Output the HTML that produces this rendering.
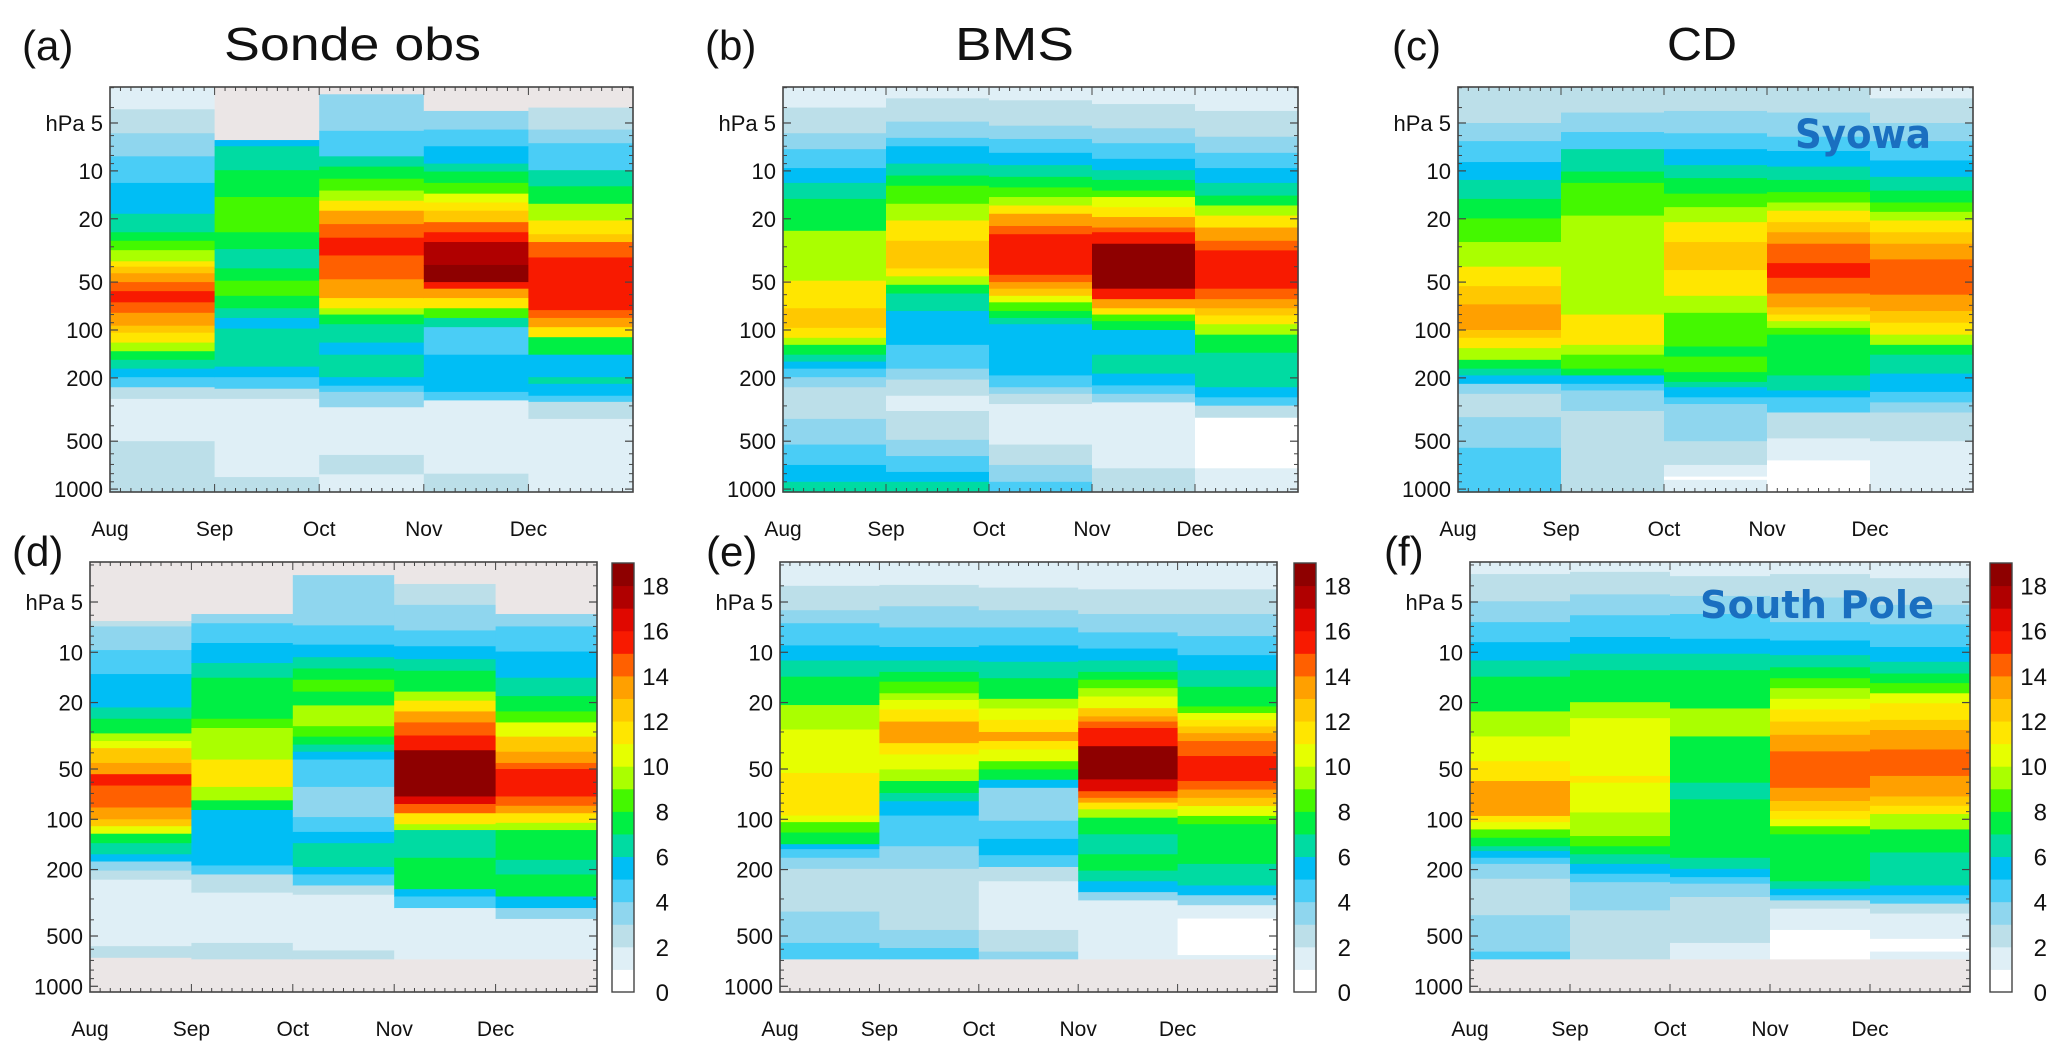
<!DOCTYPE html>
<html><head><meta charset="utf-8"><style>
html,body{margin:0;padding:0;background:#fff;}
svg{display:block;font-family:"Liberation Sans",Arial,sans-serif;}
</style></head><body>
<svg id="fig" xmlns="http://www.w3.org/2000/svg" width="2067" height="1063" viewBox="0 0 2067 1063">
<rect x="0" y="0" width="2067" height="1063" fill="#fff"/>
<g id="layer"></g>
</svg>
<script>
// ---------- data ----------
const months = ['Aug','Sep','Oct','Nov','Dec'];
const pressureTicks = [5,10,20,50,100,200,500,1000];
const pressureTickLabels = ['hPa 5','10','20','50','100','200','500','1000'];
const minorPressureTicks = [3,4,6,7,8,9,30,40,60,70,80,90,300,400,600,700,800,900];
const colorbarTicks = [0,2,4,6,8,10,12,14,16,18];
const levelColors = ['#ffffff','#dfeff6','#bcdfe9','#8fd6ee','#4acdf6','#00bef5','#00dba2','#00ef44','#44f800','#aaff00','#e6ff00','#ffe600','#ffc800','#ffa000','#ff6000','#f81a00','#e00800','#b00000','#8e0000'];
const missingColor = '#ebe6e6';
const panelTitles = ['Sonde obs','BMS','CD'];

// segments: [top pressure hPa, value]; -1 = no data
const a_Aug=[[2.9,1],[4.1,2],[5.8,3],[8.1,4],[11.9,5],[18.6,6],[24.3,7],[27.5,8],[31.5,9],[37,11],[40,12],[44,13],[50,14],[57,15],[67,14],[78,13],[94,12],[104,11],[120,9],[136,7],[154,6],[175,5],[198,4],[229,2],[271,1],[500,2]];
const a_Sep=[[2.9,-1],[6.4,5],[7.0,6],[9.9,7],[14.6,8],[24.3,7],[31,6],[41,7],[49,8],[61,7],[73,6],[84,5],[98,6],[170,5],[198,4],[234,2],[271,1],[840,2]];
const a_Oct=[[2.9,-1],[3.3,3],[5.6,4],[8.1,6],[9.4,7],[11.2,8],[13.3,9],[15.4,11],[17.8,13],[21.6,14],[26.3,15],[34,14],[48,13],[63,11],[73,9],[80,7],[92,6],[120,5],[143,6],[198,5],[224,4],[245,3],[306,1],[610,2],[808,1]];
const a_Nov=[[2.9,-1],[4.2,3],[5.5,4],[7.0,5],[9.0,6],[10.1,7],[11.9,8],[13.9,10],[15.8,11],[17.8,12],[21,14],[24.3,15],[28,17],[39,18],[50,15],[55,13],[63,11],[73,8],[84,6],[96,4],[143,5],[245,4],[277,1],[800,2]];
const a_Dec=[[2.9,-1],[4.0,2],[5.5,3],[6.7,4],[9.9,6],[12.5,7],[16.1,9],[20.5,11],[25,12],[28,14],[35,15],[75,14],[84,13],[96,11],[111,7],[143,5],[198,6],[218,5],[259,4],[283,2],[362,1]];

const b_Aug=[[2.9,1],[4.0,2],[5.8,3],[7.3,4],[9.6,5],[11.9,6],[15,7],[23.8,9],[49,11],[73,12],[97,11],[112,9],[124,7],[143,6],[158,5],[175,4],[198,3],[229,2],[362,3],[525,4],[705,5],[900,6]];
const b_Sep=[[2.9,1],[3.5,2],[4.9,3],[6.2,4],[7.0,5],[9.0,6],[10.7,7],[12.4,8],[16.1,9],[20.5,11],[27.5,12],[41,11],[46,9],[52,7],[59,6],[76,5],[124,4],[175,3],[205,2],[259,1],[323,2],[490,3],[620,4],[780,5],[900,6]];
const b_Oct=[[2.9,1],[3.6,2],[5.2,3],[6.3,4],[7.7,5],[9.2,6],[10.9,7],[12.7,8],[14.6,9],[16.5,11],[18.6,13],[22.2,14],[25,15],[45,14],[50,13],[55,12],[61,10],[67,8],[76,7],[84,6],[92,5],[193,4],[229,3],[252,2],[292,1],[525,2],[705,3],[900,4]];
const b_Nov=[[2.9,1],[3.8,2],[5.4,3],[6.7,4],[8.4,5],[9.9,6],[11.4,7],[13.3,8],[14.6,10],[16.9,11],[19.5,13],[22.7,14],[24.3,15],[28.7,18],[55,15],[64,13],[73,11],[80,8],[88,7],[100,5],[143,6],[188,5],[223,4],[252,3],[285,1],[740,2]];
const b_Dec=[[2.9,1],[4.2,2],[6.1,3],[7.7,4],[9.6,5],[11.9,6],[14.3,7],[16.5,9],[19.1,11],[22.7,13],[27.5,14],[31.6,15],[55,14],[64,13],[73,12],[81,11],[92,9],[107,7],[139,6],[229,5],[265,4],[299,2],[356,0],[740,1]];

const c_Aug=[[2.9,2],[5.0,3],[6.5,4],[8.8,5],[11.4,6],[15,7],[19.9,8],[28,9],[40,11],[53,12],[69,13],[100,12],[112,11],[130,9],[154,7],[175,6],[193,5],[218,3],[252,2],[353,3],[550,4]];
const c_Sep=[[2.9,2],[4.3,3],[5.7,4],[7.3,6],[10.1,7],[11.9,8],[19.1,9],[80,11],[124,9],[143,8],[175,7],[193,5],[218,4],[240,3],[323,2]];
const c_Oct=[[2.9,2],[4.2,3],[5.8,4],[7.3,5],[9.2,6],[11.1,7],[13.9,8],[16.9,9],[21,11],[28,12],[42,11],[61,9],[78,8],[127,7],[147,8],[184,7],[212,6],[229,5],[265,4],[292,3],[500,2],[705,1],[835,0],[875,1]];
const c_Nov=[[2.9,2],[4.3,3],[6.1,4],[7.5,5],[9.4,6],[11.4,7],[13.6,8],[15.8,9],[17.8,11],[21,12],[24.3,13],[28.7,14],[38,15],[47,14],[59,13],[72,12],[80,11],[88,9],[97,8],[107,7],[193,6],[240,5],[265,4],[330,2],[480,1],[660,0]];
const c_Dec=[[2.9,1],[3.5,2],[5.0,3],[6.5,4],[8.6,5],[10.9,6],[13.3,7],[15.8,8],[18.1,9],[20.5,11],[24.3,12],[28.7,13],[36,14],[60,13],[76,12],[90,11],[107,9],[124,7],[143,6],[188,5],[245,4],[285,3],[330,2],[500,1]];

const d_Aug=[[2.9,-1],[6.5,2],[7.0,3],[9.7,4],[13.5,5],[21.4,6],[25,7],[30.6,9],[34,10],[37.5,12],[46,13],[53.7,15],[62.8,14],[85,13],[100,12],[110,10],[122,7],[139,6],[162,5],[179,3],[203,2],[230,1],[575,2],[675,-1]];
const d_Sep=[[2.9,-1],[5.9,3],[6.7,4],[8.8,5],[11.6,6],[14.2,7],[25,8],[28.4,9],[43.9,11],[64,9],[77,7],[88,5],[189,4],[214,2],[275,1],[550,2],[690,-1]];
const d_Oct=[[2.9,-1],[3.45,3],[6.9,4],[9.0,5],[10.7,6],[12.5,7],[14.6,8],[17.2,7],[20.8,9],[27.7,8],[32,7],[35.7,6],[39.4,5],[43.9,4],[64,3],[97,4],[119,5],[139,6],[193,5],[214,4],[249,2],[283,1],[610,2],[690,-1]];
const d_Nov=[[2.9,-1],[3.9,2],[5.2,3],[7.4,4],[9.2,5],[11,6],[12.9,7],[17.2,9],[19.5,11],[22.6,13],[26.3,14],[31.5,15],[38.6,18],[73,16],[81,14],[92,11],[107,9],[116,6],[170,7],[262,5],[290,4],[340,1],[690,-1]];
const d_Dec=[[2.9,-1],[5.9,3],[7.0,4],[9.9,5],[14.2,6],[18.3,7],[22.6,8],[26.3,10],[32,12],[39.4,13],[46,14],[50,15],[73,14],[83,13],[92,11],[105,9],[116,7],[175,6],[214,7],[290,5],[340,3],[395,1],[690,-1]];

const e_Aug=[[2.9,1],[4.0,2],[5.6,3],[6.7,4],[9.1,5],[11.2,6],[14,7],[20.7,9],[29,10],[52.8,11],[95,10],[104,8],[120,7],[141,5],[151,4],[170,3],[198,2],[357,3],[550,4],[690,-1]];
const e_Sep=[[2.9,1],[3.95,2],[5.3,3],[7.1,4],[9.3,5],[11.2,6],[13.1,7],[15,8],[17.6,9],[19.3,10],[22,11],[26,13],[35,11],[40.9,10],[50.3,9],[59,7],[69.6,6],[78,5],[95,4],[145,3],[198,2],[460,3],[590,4],[690,-1]];
const e_Oct=[[2.9,1],[4.1,2],[5.6,3],[7.1,4],[9.1,5],[11.4,6],[14.3,7],[19,9],[21.7,10],[25.4,11],[30,13],[34,11],[38.2,10],[44.9,8],[50.3,7],[58,5],[64.8,3],[102,4],[131,5],[164,4],[193,2],[235,1],[460,2],[620,3],[690,-1]];
const e_Nov=[[2.9,1],[4.2,2],[5.9,3],[7.6,4],[9.5,5],[11.2,6],[13.1,7],[14.6,8],[16.4,9],[18.4,10],[21.6,12],[24.2,13],[26,14],[28.4,15],[36.5,18],[57.7,16],[67.9,14],[74.4,13],[79.5,11],[87.1,9],[97.8,7],[123,6],[162,7],[203,6],[235,5],[273,3],[306,1],[690,-1]];
const e_Dec=[[2.9,1],[4.2,2],[5.9,3],[8,4],[10.4,5],[12.8,6],[16.1,7],[21.1,8],[23.1,10],[25.4,11],[27.8,12],[30.5,13],[34,14],[41.8,15],[59,14],[66.4,13],[74.4,12],[83.3,10],[95.5,8],[107,7],[185,6],[249,5],[285,3],[327,1],[393,0],[650,1],[690,-1]];

const f_Aug=[[2.9,1],[3.4,2],[4.95,3],[6.6,4],[8.7,5],[11.2,6],[14,7],[22.6,9],[31.9,10],[44.9,11],[59,13],[95.5,11],[104,10],[115,8],[129,7],[145,6],[155,5],[170,4],[185,3],[227,2],[375,3],[620,4],[690,-1]];
const f_Sep=[[2.9,1],[3.3,2],[4.5,3],[6.0,4],[8.1,5],[10.2,6],[12.8,7],[19.9,9],[24.8,10],[55,11],[60.4,10],[91,9],[126,8],[145,7],[162,6],[185,5],[212,4],[238,3],[351,2],[690,-1]];
const f_Oct=[[2.9,1],[3.5,2],[4.6,3],[5.9,4],[8.3,5],[10.2,6],[12.8,7],[21.7,9],[31.9,7],[60.4,6],[76,7],[170,6],[198,5],[222,4],[243,3],[292,2],[550,1],[690,-1]];
const f_Nov=[[2.9,1],[3.4,2],[4.7,3],[6.6,4],[8.5,5],[10.4,6],[12.3,7],[14.3,8],[16.4,9],[19,10],[22,11],[26,12],[31.2,13],[39.2,14],[64.8,13],[77.7,12],[89.2,11],[100,10],[110,8],[123,7],[235,6],[261,5],[285,4],[306,2],[343,1],[460,0],[690,-1]];
const f_Dec=[[2.9,1],[3.6,2],[5.2,3],[6.8,4],[9.3,5],[11.4,6],[13.4,7],[15.3,8],[17.6,10],[20.2,11],[25.4,12],[29.2,13],[38.2,14],[55,13],[73,12],[83,11],[93,9],[115,7],[158,6],[249,5],[285,4],[320,2],[367,1],[520,0],[620,1],[690,-1]];

// ---------- layout ----------
const panels = [
 {id:'a', cols:[a_Aug,a_Sep,a_Oct,a_Nov,a_Dec], x0:110, x1:633, y0:87, y1:492, pMin:2.97, pMax:1043},
 {id:'b', cols:[b_Aug,b_Sep,b_Oct,b_Nov,b_Dec], x0:783, x1:1298, y0:87, y1:492, pMin:2.97, pMax:1043},
 {id:'c', cols:[c_Aug,c_Sep,c_Oct,c_Nov,c_Dec], x0:1458, x1:1973, y0:87, y1:492, pMin:2.97, pMax:1043},
 {id:'d', cols:[d_Aug,d_Sep,d_Oct,d_Nov,d_Dec], x0:90, x1:597, y0:562, y1:992, pMin:2.88, pMax:1082, cb:612},
 {id:'e', cols:[e_Aug,e_Sep,e_Oct,e_Nov,e_Dec], x0:780, x1:1277, y0:562, y1:992, pMin:2.88, pMax:1082, cb:1294},
 {id:'f', cols:[f_Aug,f_Sep,f_Oct,f_Nov,f_Dec], x0:1470, x1:1970, y0:562, y1:992, pMin:2.88, pMax:1082, cb:1990}
];
const NS='http://www.w3.org/2000/svg';
const layer=document.getElementById('layer');
function mk(tag,attrs,parent){const e=document.createElementNS(NS,tag);for(const k in attrs)e.setAttribute(k,attrs[k]);(parent||layer).appendChild(e);return e;}
function colorFor(v){return v<0?missingColor:levelColors[Math.max(0,Math.min(18,v))];}

panels.forEach(P=>{
  const g=mk('g',{});
  
  
  const yOf=p=>{p=Math.max(P.pMin,Math.min(P.pMax,p));return P.y0+(P.y1-P.y0)*Math.log(p/P.pMin)/Math.log(P.pMax/P.pMin);};
  const cw=(P.x1-P.x0)/months.length;
  const xOf=i=>P.x0+i*cw;
  P.cols.forEach((segs,ci)=>{
    segs.forEach((s,si)=>{
      const top = si===0? P.pMin : s[0];
      const bot = si<segs.length-1? segs[si+1][0] : P.pMax;
      const ya=yOf(top), yb=yOf(bot);
      if(yb<=ya) return;
      const r=mk('rect',{x:xOf(ci).toFixed(2),y:ya.toFixed(2),width:(cw+0.6).toFixed(2),height:(yb-ya+0.6).toFixed(2),fill:colorFor(s[1])},g);
      
      
    });
  });
  // frame
  const fr=mk('rect',{x:P.x0,y:P.y0,width:P.x1-P.x0,height:P.y1-P.y0,fill:'none',stroke:'#444','stroke-width':1.6},g);
  
  
  // x ticks
  for(let i=0;i<=months.length*10;i++){
    const x=P.x0+i*cw/10; const L=(i%10===0)?8:4;
    mk('line',{x1:x,x2:x,y1:P.y0,y2:P.y0+L,stroke:'#444','stroke-width':1},g);
    mk('line',{x1:x,x2:x,y1:P.y1,y2:P.y1-L,stroke:'#444','stroke-width':1},g);
  }
  // y ticks & labels
  pressureTicks.forEach((p,i)=>{
    const y=yOf(p);
    mk('line',{x1:P.x0,x2:P.x0+8,y1:y,y2:y,stroke:'#444','stroke-width':1.2},g);
    mk('line',{x1:P.x1,x2:P.x1-8,y1:y,y2:y,stroke:'#444','stroke-width':1.2},g);
    const t=mk('text',{x:P.x0-7,y:y+8,'text-anchor':'end','font-size':22,fill:'#111'},g);
    t.textContent=pressureTickLabels[i];
    
    
  });
  minorPressureTicks.forEach(p=>{
    const y=yOf(p);
    mk('line',{x1:P.x0,x2:P.x0+4,y1:y,y2:y,stroke:'#444','stroke-width':1},g);
    mk('line',{x1:P.x1,x2:P.x1-4,y1:y,y2:y,stroke:'#444','stroke-width':1},g);
  });
  // month labels
  const ly = P.y1 + 44;
  months.forEach((m,i)=>{
    const t=mk('text',{x:xOf(i),y:ly,'text-anchor':'middle','font-size':21,fill:'#111'},g);
    t.textContent=m;
    
    
  });
  // colorbar
  if(P.cb){
    const cg=mk('g',{},g);
    
    
    const cy0=P.y0+1, cy1=P.y1, n=levelColors.length+1; // 0..19
    const cyOf=v=>cy1-(cy1-cy0)*v/19;
    levelColors.forEach((c,v)=>{
      const r=mk('rect',{x:P.cb,y:cyOf(v+1),width:22,height:cyOf(v)-cyOf(v+1)+0.5,fill:c},cg);
      
      
    });
    mk('rect',{x:P.cb,y:cy0,width:22,height:cy1-cy0,fill:'none',stroke:'#444','stroke-width':1.4},cg);
    colorbarTicks.forEach(v=>{
      const t=mk('text',{x:P.cb+57,y:cyOf(v)+9,'text-anchor':'end','font-size':24,fill:'#111'},cg);
      t.textContent=v;
      
      
    });
  }
});

// panel letters & titles
const letters=[['(a)',22,60],['(b)',705,60],['(c)',1392,60],['(d)',12,566],['(e)',706,566],['(f)',1384,566]];
letters.forEach(l=>{
  const t=mk('text',{x:l[1],y:l[2],'font-size':42,fill:'#111'});
  t.textContent=l[0];
  
  
});
const titleX=[[224,257],[955,119],[1667,70]];
panelTitles.forEach((s,i)=>{
  const t=mk('text',{x:titleX[i][0],y:60,'font-size':46,fill:'#111',textLength:titleX[i][1],lengthAdjust:'spacingAndGlyphs'});
  t.textContent=s;
  
  
});
const s1=mk('text',{x:1795,y:148,'font-size':40,'font-weight':'bold',fill:'#1a6fc0',textLength:136,lengthAdjust:'spacingAndGlyphs','font-family':'DejaVu Sans, sans-serif'});
s1.textContent='Syowa';


const s2=mk('text',{x:1700,y:618,'font-size':38,'font-weight':'bold',fill:'#1a6fc0',textLength:234,lengthAdjust:'spacingAndGlyphs','font-family':'DejaVu Sans, sans-serif'});
s2.textContent='South Pole';


</script>
</body></html>
